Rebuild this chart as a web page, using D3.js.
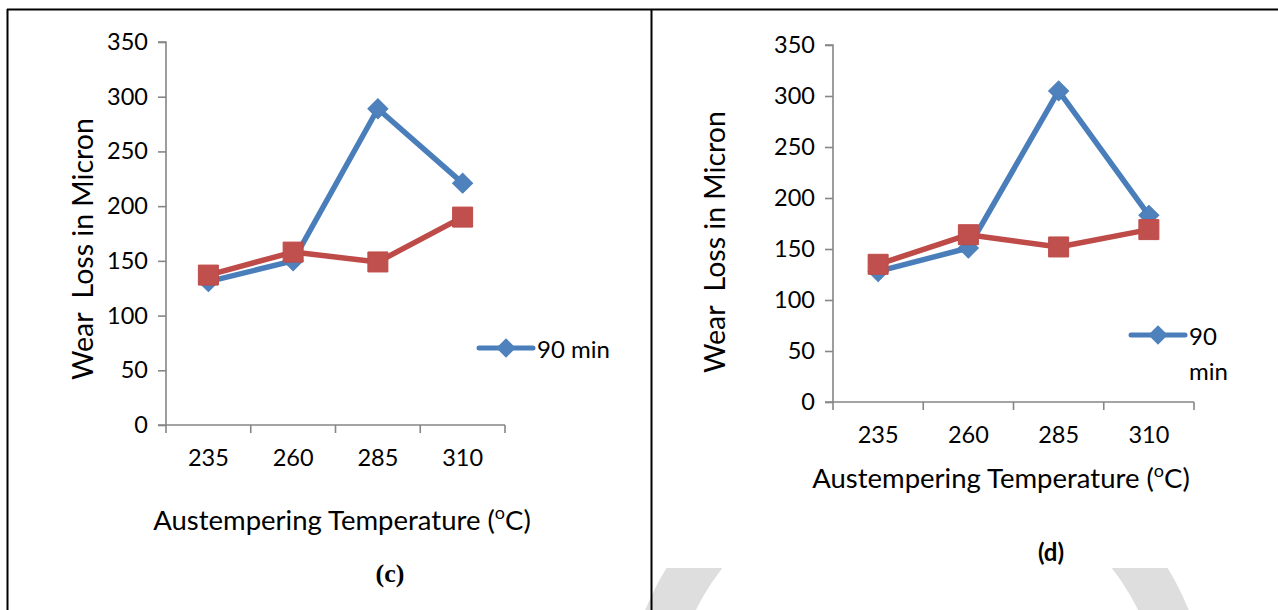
<!DOCTYPE html>
<html>
<head>
<meta charset="utf-8">
<script src="https://cdn.jsdelivr.net/npm/d3@7.9.0/dist/d3.min.js"></script>
<style>
  body { margin: 0; background: #fff; }
  svg { display: block; font-family: Lato, "Open Sans", sans-serif; }
</style>
</head>
<body>
<svg id="fig" width="1278" height="610"></svg>
<script>
// categories + values
const temps = ['235', '260', '285', '310'];
const yTicks = [0, 50, 100, 150, 200, 250, 300, 350];
const wearC90 = [131, 150, 289, 221];
const wearCOther = [137, 158, 149, 190];
const wearD90 = [128, 151, 305, 183];
const wearDOther = [135, 164, 152, 169];

const blue = '#4a7ebb', blueFill = '#4f81bd';
const red = '#be4b48', redFill = '#c0504d';
const axisGrey = '#868686';

const svg = d3.select('#fig');

// faint grey ring from the page behind the figure
const defs = svg.append('defs');
const clip = defs.append('clipPath').attr('id', 'ringclip');
clip.append('rect').attr('x', 0).attr('y', 568).attr('width', 1278).attr('height', 60);
clip.append('rect').attr('x', 600).attr('y', 555).attr('width', 66).attr('height', 60);
svg.append('g').attr('clip-path', 'url(#ringclip)')
  .append('path')
  .attr('transform', 'translate(917,720)')
  .attr('d', d3.arc().innerRadius(247).outerRadius(293).startAngle(0).endAngle(2 * Math.PI)())
  .attr('fill', '#dedede');

// table frame
svg.append('line').attr('x1', 7).attr('x2', 1278).attr('y1', 9.5).attr('y2', 9.5).attr('stroke', '#000').attr('stroke-width', 2);
svg.append('line').attr('x1', 7.5).attr('x2', 7.5).attr('y1', 9).attr('y2', 610).attr('stroke', '#000').attr('stroke-width', 2);
svg.append('line').attr('x1', 651.5).attr('x2', 651.5).attr('y1', 9).attr('y2', 610).attr('stroke', '#000').attr('stroke-width', 2);

function drawPanel(o) {
  const g = svg.append('g');
  const x = d3.scaleBand().domain(temps).range([o.x0, o.x1]);
  const y = d3.scaleLinear().domain([0, 350]).range([o.y0, o.y1]);

  // y axis
  const ya = g.append('g').attr('transform', `translate(${o.x0},0)`)
    .call(d3.axisLeft(y).tickValues(yTicks).tickSize(8).tickPadding(10));
  // x axis: ticks on band edges
  const edges = temps.map(t => x(t)).concat([o.x1]);
  const xa = g.append('g').attr('transform', `translate(0,${o.y0})`)
    .call(d3.axisBottom(x).tickSize(0).tickPadding(o.xPad));
  xa.selectAll('.edge').data(edges).join('line').attr('class', 'edge')
    .attr('x1', d => d).attr('x2', d => d).attr('y1', 0).attr('y2', 8);
  [ya, xa].forEach(a => {
    a.selectAll('path.domain').attr('stroke', axisGrey).attr('stroke-width', 1.6);
    a.selectAll('line').attr('stroke', axisGrey).attr('stroke-width', 1.6);
    a.selectAll('text').attr('font-family', 'Lato').attr('font-size', 23.5).attr('fill', '#000');
  });
  ya.select('path.domain').attr('d', `M-8,${o.y1}H0V${o.y0}`);
  xa.select('path.domain').attr('d', `M${o.x0 - 8},0H${o.x1}`);

  const cx = d => x(d) + x.bandwidth() / 2;
  const line = d3.line().x((d, i) => cx(temps[i])).y(d => y(d));

  // 90 min series
  g.append('path').datum(o.s1).attr('d', line).attr('fill', 'none')
    .attr('stroke', blue).attr('stroke-width', 5.5).attr('stroke-linejoin', 'round');
  g.selectAll('.dia').data(o.s1).join('path').attr('class', 'dia')
    .attr('d', d3.symbol(d3.symbolSquare, 200))
    .attr('transform', (d, i) => `translate(${cx(temps[i])},${y(d)}) rotate(45)`)
    .attr('fill', blueFill).attr('stroke', blue).attr('stroke-width', 1);

  // other series
  g.append('path').datum(o.s2).attr('d', line).attr('fill', 'none')
    .attr('stroke', red).attr('stroke-width', 5.5).attr('stroke-linejoin', 'round');
  g.selectAll('.sq').data(o.s2).join('path').attr('class', 'sq')
    .attr('d', d3.symbol(d3.symbolSquare, 400))
    .attr('transform', (d, i) => `translate(${cx(temps[i])},${y(d)})`)
    .attr('fill', redFill).attr('stroke', red).attr('stroke-width', 1);

  // axis titles
  g.append('text').attr('transform', `translate(${o.ytX},${o.ytY}) rotate(-90)`)
    .attr('text-anchor', 'middle').attr('dominant-baseline', 'central')
    .attr('font-size', 28.5).attr('xml:space', 'preserve')
    .text('Wear  Loss in Micron');
  const xt = g.append('text').attr('x', o.xtX).attr('y', o.xtY)
    .attr('text-anchor', 'middle').attr('font-size', 27.5);
  xt.append('tspan').text('Austempering Temperature (');
  xt.append('tspan').attr('font-size', 18).attr('dy', -11).text('o');
  xt.append('tspan').attr('dy', 11).text('C)');

  // legend
  const lg = g.append('g').attr('transform', `translate(${o.lgX},${o.lgY})`);
  lg.append('line').attr('x1', 0).attr('x2', 54).attr('stroke', blue)
    .attr('stroke-width', 5).attr('stroke-linecap', 'round');
  lg.append('path').attr('d', d3.symbol(d3.symbolSquare, 190))
    .attr('transform', 'translate(27,0) rotate(45)').attr('fill', blueFill);
  const lt = lg.append('text').attr('x', 58).attr('font-size', 24)
    .attr('dominant-baseline', 'central');
  o.legendLines.forEach((s, i) => {
    lt.append('tspan').attr('x', 58).attr('dy', i === 0 ? 0 : 35).text(s);
  });

  // panel label
  g.append('text').attr('x', o.capX).attr('y', o.capY).attr('text-anchor', 'middle')
    .attr('font-family', o.capFont).attr('font-weight', 'bold').attr('font-size', o.capSize)
    .text(o.cap);
}

drawPanel({
  x0: 166, x1: 505, y0: 425, y1: 42, xPad: 24,
  s1: wearC90, s2: wearCOther,
  ytX: 82, ytY: 249, xtX: 342, xtY: 530,
  lgX: 479, lgY: 348, legendLines: ['90 min'],
  cap: '(c)', capX: 390, capY: 582, capSize: 26,
  capFont: '"Liberation Serif", "Times New Roman", serif'
});

drawPanel({
  x0: 833, x1: 1194, y0: 402, y1: 45, xPad: 24,
  s1: wearD90, s2: wearDOther,
  ytX: 714, ytY: 242, xtX: 1001, xtY: 488,
  lgX: 1131, lgY: 335, legendLines: ['90', 'min'],
  cap: '(d)', capX: 1051, capY: 561, capSize: 24, capFont: 'Lato, sans-serif'
});
</script>
</body>
</html>
